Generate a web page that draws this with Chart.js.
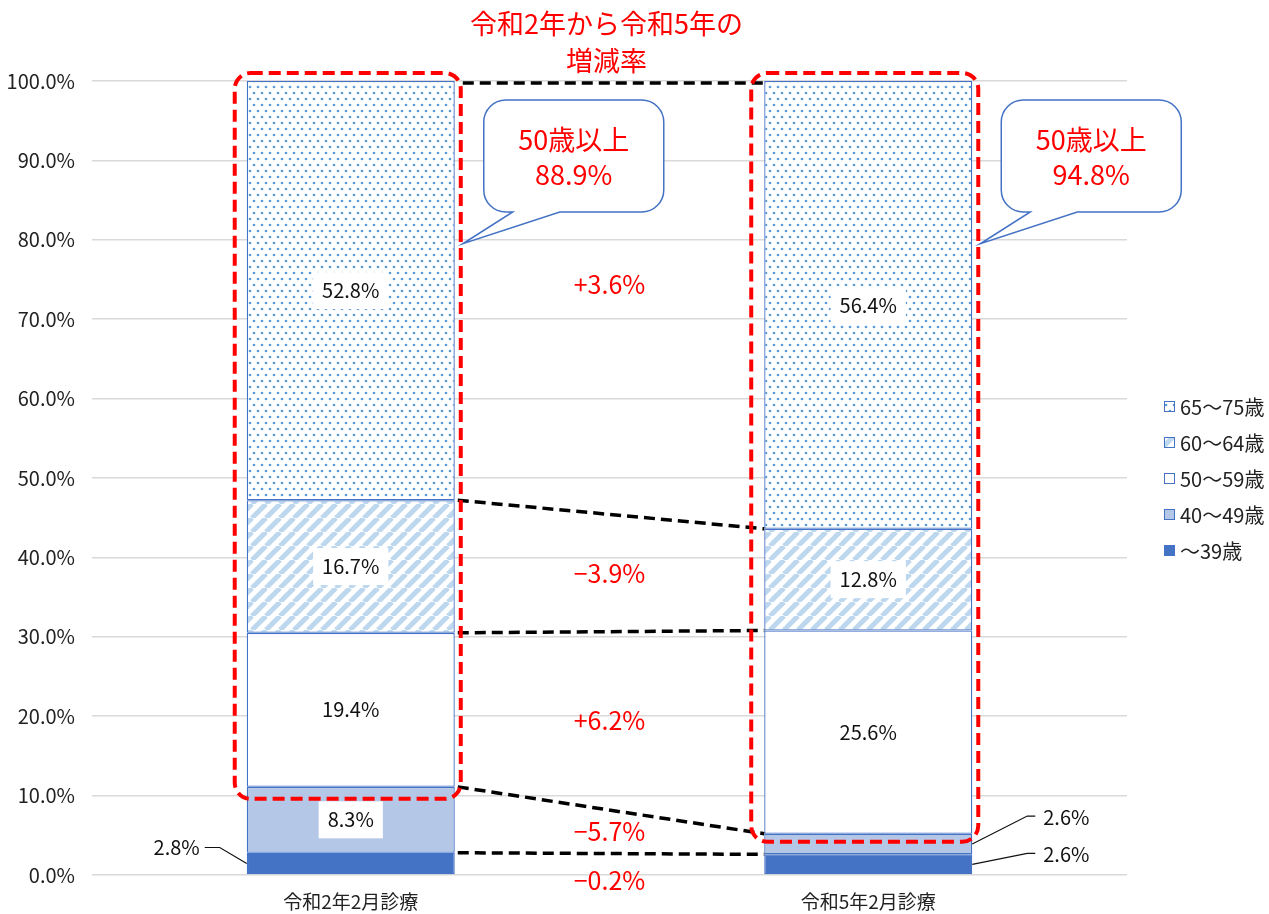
<!DOCTYPE html>
<html lang="ja">
<head>
<meta charset="utf-8">
<title>年齢階級別構成比</title>
<script src="https://cdn.jsdelivr.net/npm/chart.js@4.4.1/dist/chart.umd.min.js"></script>
<style>
  html, body { margin: 0; padding: 0; background: #fff; }
  #wrap { width: 1269px; height: 914px; position: relative; }
</style>
</head>
<body>
<div id="wrap"><canvas id="ageChart"></canvas></div>
<script>
// データ（構成比 %）
const categories = ['令和2年2月診療', '令和5年2月診療'];
const groupLabels = ['～39歳', '40～49歳', '50～59歳', '60～64歳', '65～75歳'];
const under39 = [2.8, 2.6];
const age40to49 = [8.3, 2.6];
const age50to59 = [19.4, 25.6];
const age60to64 = [16.7, 12.8];
const age65to75 = [52.8, 56.4];
const yTicks = [0, 10, 20, 30, 40, 50, 60, 70, 80, 90, 100];
const titleLines = ['令和2年から令和5年の', '増減率'];
const calloutLabel = '50歳以上';

const series = [under39, age40to49, age50to59, age60to64, age65to75];
const FONT = "'Noto Sans CJK JP', 'Noto Sans', sans-serif";
const BLUE = '#4472c4';
const RED = '#ff0000';

// 模様（ドット・斜線）
function makeDots() {
  const c = document.createElement('canvas');
  c.width = 8; c.height = 12;
  const g = c.getContext('2d');
  g.fillStyle = '#fff'; g.fillRect(0, 0, 8, 12);
  g.fillStyle = '#5b9bd5';
  g.beginPath(); g.arc(2, 3, 1.35, 0, Math.PI * 2); g.fill();
  g.beginPath(); g.arc(6, 9, 1.35, 0, Math.PI * 2); g.fill();
  return g.createPattern(c, 'repeat');
}
function makeStripes() {
  const c = document.createElement('canvas');
  c.width = 14; c.height = 14;
  const g = c.getContext('2d');
  g.fillStyle = '#fff'; g.fillRect(0, 0, 14, 14);
  g.strokeStyle = '#bdd7ee'; g.lineWidth = 5;
  for (const o of [-14, 0, 14]) {
    g.beginPath(); g.moveTo(o, 14); g.lineTo(o + 14, 0); g.stroke();
  }
  return g.createPattern(c, 'repeat');
}
const fills = ['#4472c4', '#b4c7e7', '#ffffff', makeStripes(), makeDots()];

function roundRectPath(ctx, x, y, w, h, r) {
  ctx.beginPath();
  ctx.moveTo(x + r, y);
  ctx.lineTo(x + w - r, y);
  ctx.arcTo(x + w, y, x + w, y + r, r);
  ctx.lineTo(x + w, y + h - r);
  ctx.arcTo(x + w, y + h, x + w - r, y + h, r);
  ctx.lineTo(x + r, y + h);
  ctx.arcTo(x, y + h, x, y + h - r, r);
  ctx.lineTo(x, y + r);
  ctx.arcTo(x, y, x + r, y, r);
  ctx.closePath();
}

const fmt = v => v.toFixed(1) + '%';

// ラベル・注記の描画
const overlayPlugin = {
  id: 'overlay',
  afterDatasetsDraw(chart) {
    const ctx = chart.ctx;
    const ys = chart.scales.y;
    const metas = series.map((_, i) => chart.getDatasetMeta(i));
    const bar = j => {
      const el = metas[0].data[j];
      return { left: el.x - el.width / 2, right: el.x + el.width / 2 };
    };
    const b1 = bar(0), b2 = bar(1);
    const cum = [0, 1].map(j => {
      let s = 0;
      return series.map(d => (s += d[j]));
    });

    ctx.save();
    // データラベル
    ctx.font = '20px ' + FONT;
    series.forEach((d, i) => {
      d.forEach((v, j) => {
        const el = metas[i].data[j];
        const cy = (el.y + el.base) / 2;
        const tw = ctx.measureText(fmt(v)).width;
        if (v >= 5) {
          ctx.fillStyle = '#fff';
          ctx.fillRect(el.x - tw / 2 - 9, cy - 18.5, tw + 18, 37);
          ctx.fillStyle = '#111';
          ctx.textAlign = 'center'; ctx.textBaseline = 'middle';
          ctx.fillText(fmt(v), el.x, cy);
        } else {
          const { left, right } = bar(j);
          ctx.strokeStyle = '#111'; ctx.lineWidth = 1.2; ctx.setLineDash([]);
          ctx.fillStyle = '#111'; ctx.textBaseline = 'middle';
          ctx.beginPath();
          if (j === 0) {
            const ly = cy - 16;
            ctx.moveTo(left - 42, ly); ctx.lineTo(left - 27, ly); ctx.lineTo(left, cy);
            ctx.stroke();
            ctx.textAlign = 'right';
            ctx.fillText(fmt(v), left - 47, ly);
          } else {
            const ly = cy - (i === 1 ? 28 : 11);
            ctx.moveTo(right, cy); ctx.lineTo(right + 55, ly); ctx.lineTo(right + 63, ly);
            ctx.stroke();
            ctx.textAlign = 'left';
            ctx.fillText(fmt(v), right + 71, ly + 1);
          }
        }
      });
    });

    // 黒の破線（区切りの推移）
    ctx.strokeStyle = '#000'; ctx.lineWidth = 3.5; ctx.setLineDash([11, 6]);
    series.forEach((_, i) => {
      const top = i === series.length - 1;
      ctx.beginPath();
      ctx.moveTo(b1.right + (top ? 8 : 3), ys.getPixelForValue(cum[0][i]) + (top ? 2 : 0));
      ctx.lineTo(b2.left, ys.getPixelForValue(cum[1][i]) + (top ? 2 : 0));
      ctx.stroke();
    });

    // 赤の破線枠（50歳以上）
    ctx.strokeStyle = RED; ctx.lineWidth = 4; ctx.setLineDash([12, 6]);
    const yTop = ys.getPixelForValue(100) - 8;
    roundRectPath(ctx, b1.left - 12, yTop, b1.right + 6 - (b1.left - 12),
      ys.getPixelForValue(cum[0][1]) + 12 - yTop, 16);
    ctx.stroke();
    roundRectPath(ctx, b2.left - 13, yTop, b2.right + 6 - (b2.left - 13),
      ys.getPixelForValue(cum[1][1]) + 8 - yTop, 16);
    ctx.stroke();
    ctx.setLineDash([]);

    // 増減率
    const midX = (b1.right + b2.left) / 2;
    ctx.fillStyle = RED; ctx.font = '25px ' + FONT;
    ctx.textAlign = 'center'; ctx.textBaseline = 'middle';
    series.forEach((d, i) => {
      const diff = Math.round((d[1] - d[0]) * 10) / 10;
      const m0 = cum[0][i] - d[0] / 2, m1 = cum[1][i] - d[1] / 2;
      let y = ys.getPixelForValue((m0 + m1) / 2);
      if (i === series.length - 1) y -= 13;
      if (i === 0) y += 16;
      const txt = (diff >= 0 ? '+' : '−') + Math.abs(diff).toFixed(1) + '%';
      ctx.fillText(txt, midX, y);
    });

    // タイトル
    ctx.font = '27px ' + FONT;
    ctx.fillText(titleLines[0], midX - 3, 24);
    ctx.fillText(titleLines[1], midX - 3, 61);

    // 吹き出し
    [b1, b2].forEach((b, j) => {
      const share = series.slice(2).reduce((s, d) => s + d[j], 0);
      const x = b.right + 29, y = ys.getPixelForValue(100) + 19, w = 180, h = 112, r = 22;
      const tipX = b.right + 8, tipY = ys.getPixelForValue(79.5);
      ctx.beginPath();
      ctx.moveTo(x + r, y);
      ctx.lineTo(x + w - r, y);
      ctx.arcTo(x + w, y, x + w, y + r, r);
      ctx.lineTo(x + w, y + h - r);
      ctx.arcTo(x + w, y + h, x + w - r, y + h, r);
      ctx.lineTo(x + 76, y + h);
      ctx.lineTo(tipX, tipY);
      ctx.lineTo(x + 29, y + h);
      ctx.lineTo(x + r, y + h);
      ctx.arcTo(x, y + h, x, y + h - r, r);
      ctx.lineTo(x, y + r);
      ctx.arcTo(x, y, x + r, y, r);
      ctx.closePath();
      ctx.fillStyle = '#fff'; ctx.fill();
      ctx.strokeStyle = BLUE; ctx.lineWidth = 1.5; ctx.stroke();
      ctx.fillStyle = RED; ctx.font = '27px ' + FONT;
      ctx.fillText(calloutLabel, x + w / 2, y + h / 2 - 16);
      ctx.fillText(fmt(Math.round(share * 10) / 10), x + w / 2, y + h / 2 + 19);
    });

    // 凡例（上から65～75歳）
    ctx.font = '20px ' + FONT; ctx.textAlign = 'left';
    for (let k = 0; k < series.length; k++) {
      const i = series.length - 1 - k;
      const cy = 406 + k * 36;
      ctx.fillStyle = fills[i];
      ctx.fillRect(1164, cy - 5, 11, 11);
      ctx.strokeStyle = BLUE; ctx.lineWidth = 1;
      ctx.strokeRect(1164.5, cy - 4.5, 10, 10);
      ctx.fillStyle = '#222';
      ctx.fillText(groupLabels[i], 1180, cy + 1);
    }
    ctx.restore();
  }
};

new Chart(document.getElementById('ageChart'), {
  type: 'bar',
  data: {
    labels: categories,
    datasets: series.map((d, i) => ({
      label: groupLabels[i],
      data: d,
      backgroundColor: fills[i],
      borderColor: BLUE,
      borderWidth: 1.3,
      borderSkipped: false,
      categoryPercentage: 1,
      barPercentage: 0.402
    }))
  },
  options: {
    responsive: true,
    maintainAspectRatio: false,
    animation: false,
    layout: { padding: { top: 81, right: 142, left: 0, bottom: 0 } },
    plugins: { legend: { display: false }, tooltip: { enabled: false } },
    scales: {
      x: {
        stacked: true,
        grid: { display: false, drawTicks: false },
        border: { display: false },
        ticks: { font: { family: FONT, size: 19 }, color: '#222', padding: 15 },
        afterFit: s => { s.height = 39; }
      },
      y: {
        stacked: true,
        min: 0, max: 100,
        grid: { color: '#d9d9d9', lineWidth: 1.5, drawTicks: false },
        border: { display: false },
        afterBuildTicks: s => { s.ticks = yTicks.map(v => ({ value: v })); },
        ticks: { font: { family: FONT, size: 20 }, color: '#222', padding: 17, callback: v => fmt(v) },
        afterFit: s => { s.width = 92; }
      }
    }
  },
  plugins: [overlayPlugin]
});
</script>
</body>
</html>
